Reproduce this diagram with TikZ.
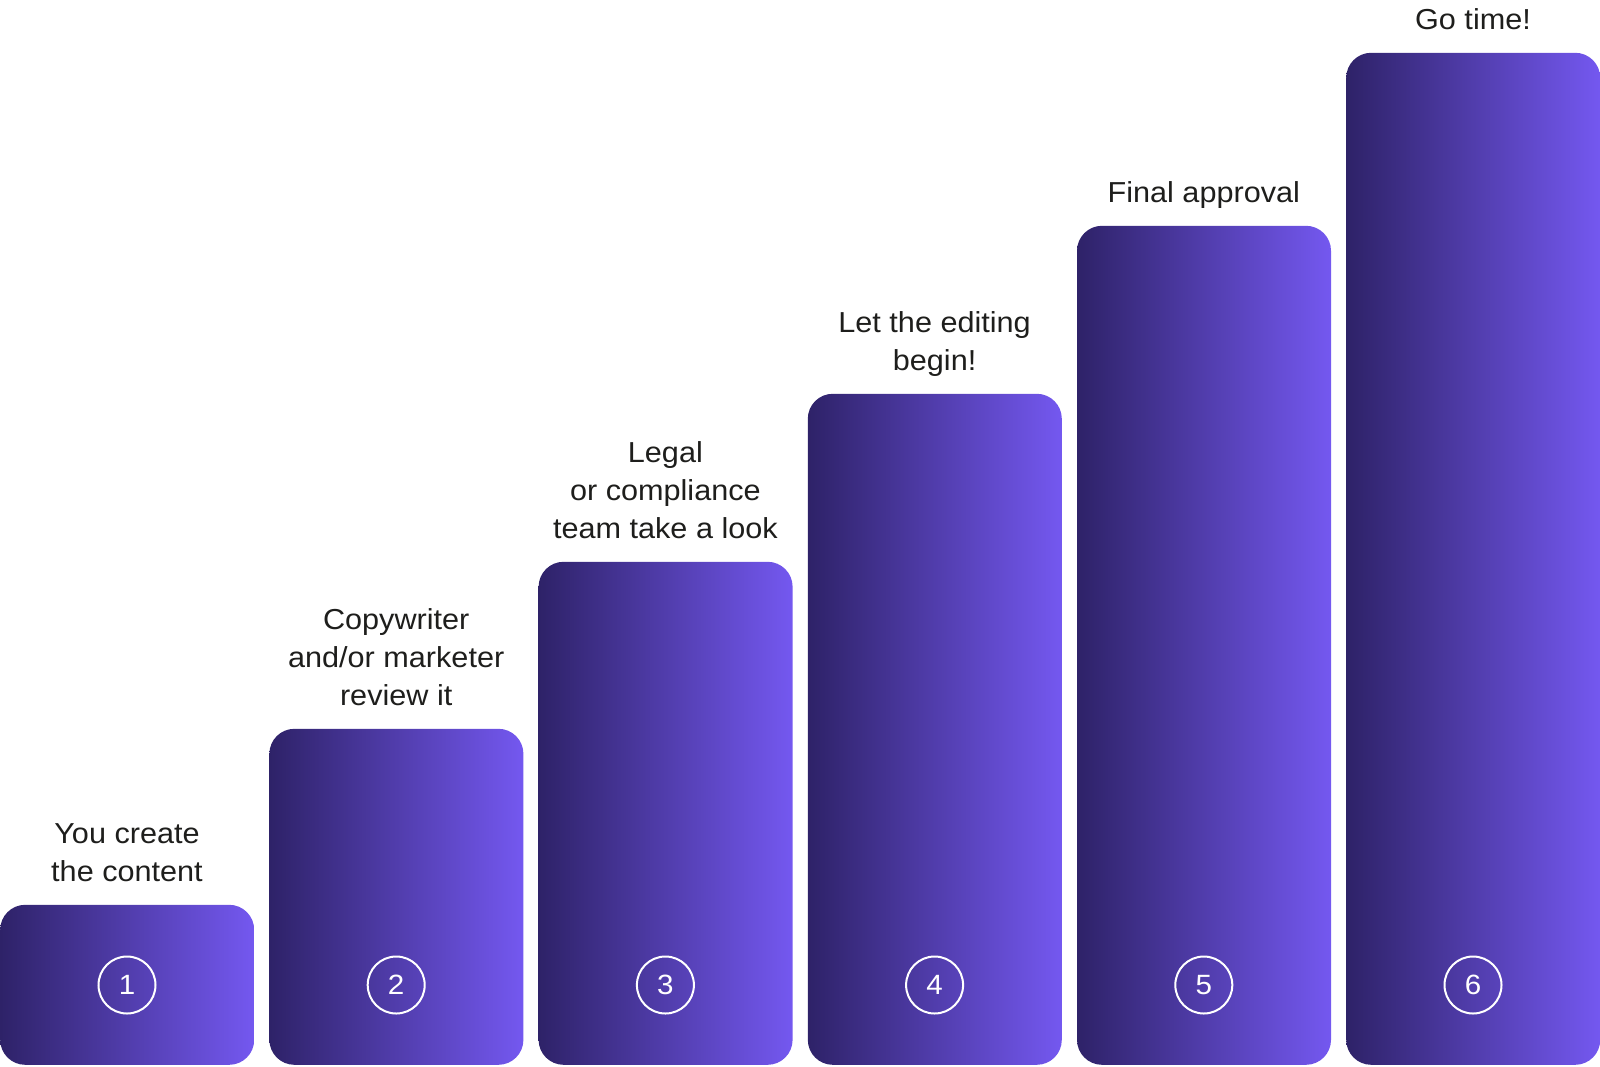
\documentclass[tikz,border=0pt]{standalone}
\usepackage{fontspec}
\setmainfont[FakeStretch=1.06]{Liberation Sans}
\definecolor{barL}{RGB}{46,34,104}
\definecolor{barR}{RGB}{116,88,240}
\definecolor{txt}{RGB}{30,30,28}
\begin{document}
\begin{tikzpicture}[x=1bp,y=-1bp,
  bar/.style={rectangle,rounded corners=25bp,minimum width=254bp,inner sep=0,
    anchor=south west,left color=barL,right color=barR,draw=none},
  num/.style={circle,draw=white,line width=2bp,minimum size=57bp,inner sep=0,
    text=white,font=\fontsize{28}{30}\selectfont},
  lbl/.style={anchor=south,inner sep=0,align=center,text=txt,
    font=\fontsize{29}{38.3}\selectfont,execute at end node=\strut}]
\useasboundingbox (0,0) rectangle (1600,1066);
\foreach \i/\top/\t in {1/905/{You create\\the content},
                        2/729/{Copywriter\\and/or marketer\\review it},
                        3/562/{Legal\\or compliance\\team take a look},
                        4/394/{Let the editing\\begin!},
                        5/226/{Final approval},
                        6/53/{Go time!}}{
  \pgfmathsetmacro{\xx}{(\i-1)*269.2}
  \pgfmathsetmacro{\hh}{1065-\top}
  \node[bar,minimum height=\hh bp] (b\i) at (\xx,1065) {};
  \node[num] (n\i) at (\xx+127,985) {\i};
  \node[lbl] (l\i) at (\xx+127,\top-11.5) {\t};
}
\end{tikzpicture}
\end{document}
